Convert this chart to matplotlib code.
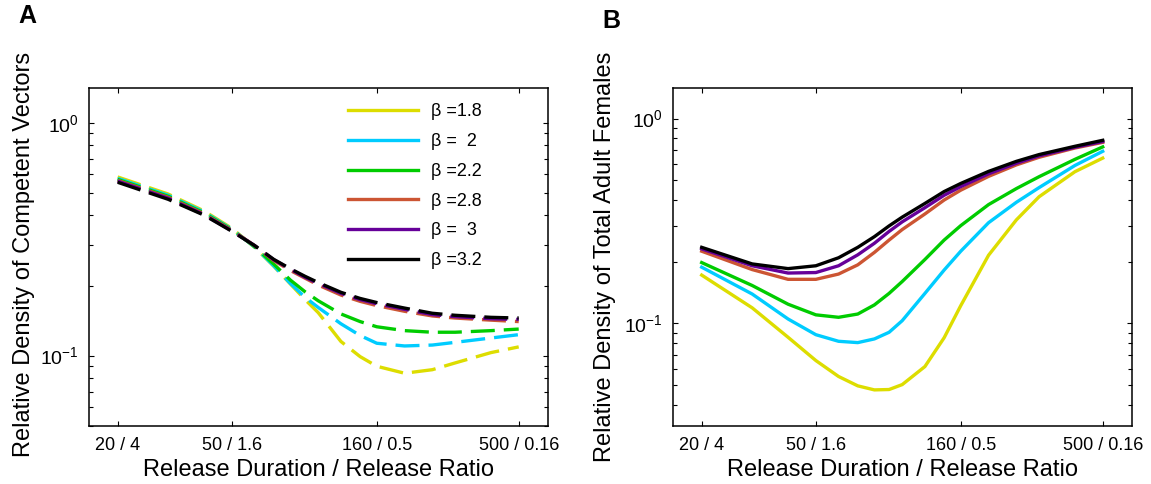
import matplotlib
matplotlib.use("Agg")
import matplotlib.pyplot as plt
from matplotlib.ticker import FixedLocator, FixedFormatter, NullLocator, NullFormatter, LogLocator

plt.rcParams["font.family"] = ["Liberation Sans", "DejaVu Sans"]
plt.rcParams["mathtext.default"] = "regular"

# -- data -----------------------------------------------------------------------
duration = [20, 30, 40, 50, 60, 70, 80, 90, 100, 120, 140, 160, 200, 250, 300, 400, 500]

tick_dur    = [20, 50, 160, 500]
tick_labels = ["20 / 4", "50 / 1.6", "160 / 0.5", "500 / 0.16"]

beta_labels = ["\u03b2 =1.8", "\u03b2 =  2", "\u03b2 =2.2", "\u03b2 =2.8", "\u03b2 =  3", "\u03b2 =3.2"]
colors      = ["#dddd00", "#00ccff", "#00cc00", "#cc5533", "#660099", "#000000"]

# panel A: competent vectors (dashed)
vec_b18 = [0.585, 0.494, 0.418, 0.352, 0.292, 0.242, 0.203, 0.174, 0.153, 0.115, 0.099, 0.090, 0.084, 0.087, 0.093, 0.103, 0.109]
vec_b20 = [0.577, 0.488, 0.414, 0.349, 0.293, 0.243, 0.204, 0.178, 0.161, 0.137, 0.122, 0.113, 0.110, 0.111, 0.114, 0.119, 0.123]
vec_b22 = [0.571, 0.483, 0.410, 0.347, 0.294, 0.247, 0.211, 0.188, 0.172, 0.151, 0.140, 0.133, 0.128, 0.126, 0.126, 0.128, 0.130]
vec_b28 = [0.565, 0.478, 0.406, 0.345, 0.297, 0.256, 0.232, 0.215, 0.201, 0.182, 0.171, 0.164, 0.155, 0.148, 0.145, 0.142, 0.140]
vec_b30 = [0.561, 0.474, 0.403, 0.343, 0.297, 0.258, 0.235, 0.217, 0.204, 0.185, 0.174, 0.167, 0.158, 0.150, 0.147, 0.144, 0.143]
vec_b32 = [0.555, 0.469, 0.401, 0.342, 0.297, 0.259, 0.236, 0.219, 0.206, 0.187, 0.176, 0.169, 0.160, 0.152, 0.149, 0.146, 0.145]

# panel B: total adult females (solid)
fem_b18 = [0.172, 0.119, 0.0855, 0.0658, 0.0550, 0.0495, 0.0473, 0.0475, 0.0502, 0.0615, 0.085, 0.122, 0.215, 0.320, 0.415, 0.550, 0.641]
fem_b20 = [0.188, 0.139, 0.105, 0.088, 0.0817, 0.0805, 0.0839, 0.0904, 0.103, 0.140, 0.182, 0.225, 0.310, 0.390, 0.460, 0.590, 0.692]
fem_b22 = [0.198, 0.153, 0.124, 0.110, 0.107, 0.111, 0.123, 0.140, 0.160, 0.205, 0.255, 0.300, 0.380, 0.455, 0.520, 0.632, 0.727]
fem_b28 = [0.225, 0.183, 0.164, 0.164, 0.174, 0.193, 0.222, 0.255, 0.287, 0.342, 0.400, 0.447, 0.522, 0.594, 0.647, 0.718, 0.765]
fem_b30 = [0.231, 0.191, 0.176, 0.177, 0.191, 0.216, 0.246, 0.281, 0.313, 0.367, 0.422, 0.465, 0.537, 0.605, 0.657, 0.724, 0.772]
fem_b32 = [0.235, 0.195, 0.185, 0.191, 0.209, 0.235, 0.265, 0.299, 0.330, 0.385, 0.440, 0.482, 0.552, 0.618, 0.667, 0.732, 0.783]

vec_series = [vec_b18, vec_b20, vec_b22, vec_b28, vec_b30, vec_b32]
fem_series = [fem_b18, fem_b20, fem_b22, fem_b28, fem_b30, fem_b32]

# -- figure -----------------------------------------------------------------------
W, H = 1151, 484
fig = plt.figure(figsize=(W / 100, H / 100), dpi=100)
axA = fig.add_axes([88.7 / W, (H - 425.7) / H, 459 / W, 337.7 / H])
axB = fig.add_axes([672.7 / W, (H - 425.7) / H, 459 / W, 337.7 / H])


def style_axes(ax, ylim, ylabel):
    ax.set_xscale("log")
    ax.set_yscale("log")
    ax.set_xlim(10 ** 1.2, 10 ** 2.8)
    ax.set_ylim(*ylim)
    ax.xaxis.set_major_locator(FixedLocator(tick_dur))
    ax.xaxis.set_major_formatter(FixedFormatter(tick_labels))
    ax.xaxis.set_minor_locator(NullLocator())
    ax.yaxis.set_major_locator(LogLocator(base=10))
    ax.yaxis.set_minor_locator(LogLocator(base=10, subs=range(2, 10)))
    ax.yaxis.set_minor_formatter(NullFormatter())
    ax.tick_params(which="both", direction="in", top=True, right=True, width=0.8)
    ax.tick_params(which="major", length=3.3)
    ax.tick_params(which="minor", length=2.6)
    ax.tick_params(axis="x", labelsize=13, pad=8)
    ax.tick_params(axis="y", labelsize=14, pad=7)
    for s in ax.spines.values():
        s.set_linewidth(1.1)
    ax.set_xlabel("Release Duration / Release Ratio", fontsize=17)
    ax.xaxis.set_label_coords(0.5, -0.1)
    ax.set_ylabel(ylabel, fontsize=17)


# panel A
for vals, c in zip(vec_series, colors):
    axA.plot(duration, vals, color=c, lw=2.4, ls=(0, (7.2, 2.7)))
style_axes(axA, (0.05, 1.41), "Relative Density of Competent Vectors")
axA.yaxis.set_label_coords(-0.118, 0.507)

# legend uses solid lines
handles = [plt.Line2D([], [], color=c, lw=2.4) for c in colors]
axA.legend(handles, beta_labels, loc="upper left", bbox_to_anchor=(0.565, 0.955),
           frameon=False, fontsize=13, handlelength=3.9, handletextpad=0.72,
           labelspacing=0.71, borderpad=0, borderaxespad=0)

# panel B
for vals, c in zip(fem_series, colors):
    axB.plot(duration, vals, color=c, lw=2.4)
style_axes(axB, (10 ** -1.5, 1.41), "Relative Density of Total Adult Females")
axB.yaxis.set_label_coords(-0.124, 0.5)

fig.text(18 / W, 1 - 16 / H, "A", fontsize=18, fontweight="bold", va="center", ha="left")
fig.text(602 / W, 1 - 21 / H, "B", fontsize=18, fontweight="bold", va="center", ha="left")

fig.savefig("out.png", dpi=100)
